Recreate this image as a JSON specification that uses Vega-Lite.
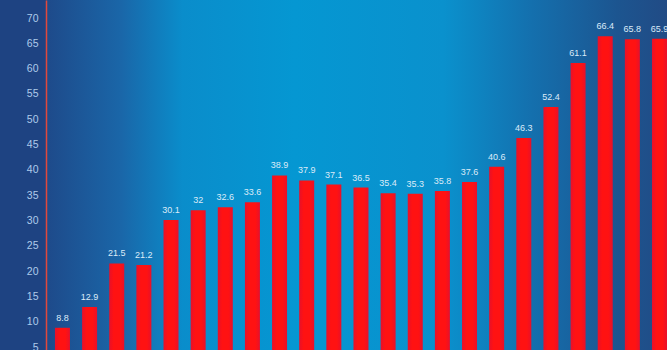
{
  "$schema": "https://vega.github.io/schema/vega-lite/v6.json",
  "width": 621,
  "height": 350,
  "autosize": {"type": "none"},
  "padding": {"left": 46, "top": 0, "right": 0, "bottom": 0},
  "background": "#1e4382",
  "config": {"view": {"stroke": null}},
  "layer": [
    {
      "data": {"values": [{"bg": 1}]},
      "mark": {
        "type": "rect",
        "color": {
          "gradient": "linear",
          "x1": 0, "x2": 1, "y1": 0, "y2": 0,
          "stops": [
            {"offset": 0, "color": "#1e4a8a"},
            {"offset": 0.12, "color": "#1a66a8"},
            {"offset": 0.22, "color": "#0a8dcb"},
            {"offset": 0.4, "color": "#0597d2"},
            {"offset": 0.64, "color": "#0a91cd"},
            {"offset": 0.78, "color": "#1470ae"},
            {"offset": 0.92, "color": "#1c5590"},
            {"offset": 1, "color": "#214b85"}
          ]
        }
      },
      "encoding": {}
    },
    {
      "data": {
        "values": [
          {"i": 1, "v": 8.8}, {"i": 2, "v": 12.9}, {"i": 3, "v": 21.5}, {"i": 4, "v": 21.2},
          {"i": 5, "v": 30.1}, {"i": 6, "v": 32}, {"i": 7, "v": 32.6}, {"i": 8, "v": 33.6},
          {"i": 9, "v": 38.9}, {"i": 10, "v": 37.9}, {"i": 11, "v": 37.1}, {"i": 12, "v": 36.5},
          {"i": 13, "v": 35.4}, {"i": 14, "v": 35.3}, {"i": 15, "v": 35.8}, {"i": 16, "v": 37.6},
          {"i": 17, "v": 40.6}, {"i": 18, "v": 46.3}, {"i": 19, "v": 52.4}, {"i": 20, "v": 61.1},
          {"i": 21, "v": 66.4}, {"i": 22, "v": 65.8}, {"i": 23, "v": 65.9}
        ]
      },
      "encoding": {
        "x": {
          "field": "i", "type": "ordinal", "sort": null,
          "scale": {"paddingInner": 0.447, "paddingOuter": 0.165, "align": 1},
          "axis": null
        },
        "y": {
          "field": "v", "type": "quantitative",
          "scale": {"domain": [4.41, 73.56], "nice": false, "zero": false},
          "axis": {
            "values": [5, 10, 15, 20, 25, 30, 35, 40, 45, 50, 55, 60, 65, 70],
            "title": null,
            "grid": false,
            "ticks": false,
            "zindex": 1,
            "domainColor": "#e2483c",
            "domainWidth": 1.5,
            "labelColor": "#aecbea",
            "labelFontSize": 10.5,
            "labelFont": "Liberation Sans",
            "labelPadding": 8
          }
        }
      },
      "layer": [
        {
          "mark": {
            "type": "bar",
            "clip": true,
            "color": {
              "gradient": "linear",
              "x1": 0, "x2": 1, "y1": 0, "y2": 0,
              "stops": [
                {"offset": 0, "color": "#e8102a"},
                {"offset": 0.3, "color": "#ff1212"},
                {"offset": 0.7, "color": "#ff1212"},
                {"offset": 1, "color": "#e8102a"}
              ]
            }
          }
        },
        {
          "mark": {
            "type": "text",
            "baseline": "alphabetic",
            "dy": -7,
            "fontSize": 9,
            "font": "Liberation Sans",
            "color": "#dcebf8"
          },
          "encoding": {"text": {"field": "v", "type": "quantitative"}}
        }
      ]
    }
  ]
}
